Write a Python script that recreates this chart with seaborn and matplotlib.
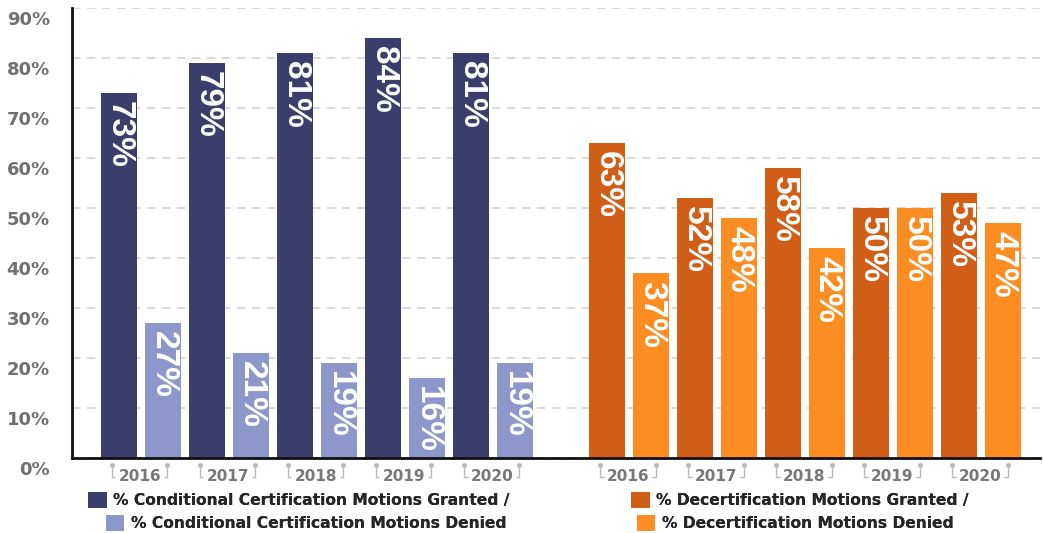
import numpy as np
import pandas as pd
import matplotlib
matplotlib.use("Agg")
import matplotlib.pyplot as plt
import matplotlib.transforms as mtransforms
from matplotlib.patches import Patch
import seaborn as sns

# ---------------- data ----------------
years = ["2016", "2017", "2018", "2019", "2020"]
cond_granted = [73, 79, 81, 84, 81]
cond_denied = [27, 21, 19, 16, 19]
decert_granted = [63, 52, 58, 50, 53]
decert_denied = [37, 48, 42, 50, 47]
series_labels = [
    "% Conditional Certification Motions Granted /",
    "% Conditional Certification Motions Denied",
    "% Decertification Motions Granted /",
    "% Decertification Motions Denied",
]
y_ticks = [0, 10, 20, 30, 40, 50, 60, 70, 80, 90]
y_tick_labels = [f"{t}%" for t in y_ticks]

# ---------------- style ----------------
colors = ["#3b3e6b", "#8e97c9", "#d05e17", "#fb8d22"]
group_offset = 11.1
bar_width = 36 / 44

sns.set_theme(style="white")
plt.rcParams["font.family"] = ["DejaVu Sans"]

rows = []
groups = [(cond_granted, cond_denied), (decert_granted, decert_denied)]
for g, (gr, de) in enumerate(groups):
    for i, y in enumerate(years):
        rows.append(dict(pos=g * group_offset + 2 * i, value=gr[i],
                         series=series_labels[2 * g], year=y, group=g))
        rows.append(dict(pos=g * group_offset + 2 * i + 1, value=de[i],
                         series=series_labels[2 * g + 1], year=y, group=g))
df = pd.DataFrame(rows)

fig = plt.figure(figsize=(10.43, 5.33), dpi=100)
ax = fig.add_axes([72 / 1043, 75 / 533, (1040 - 72) / 1043, 450 / 533])

palette = dict(zip(series_labels, colors))
sns.barplot(data=df, x="pos", y="value", hue="series", palette=palette,
            native_scale=True, dodge=False, width=bar_width, saturation=1,
            linewidth=0, legend=False, ax=ax, errorbar=None)

ax.set_xlim(-1.068, 20.93)
ax.set_ylim(0, 90)
ax.set_yticks(y_ticks)
ax.set_yticklabels(y_tick_labels)
ax.set_xticks([])
ax.set_xlabel("")
ax.set_ylabel("")
ax.set_axisbelow(True)
ax.yaxis.grid(True, linestyle=(0, (5, 4)), color="#d3d3d3", linewidth=1.2)
ax.xaxis.grid(False)
for s in ["top", "right"]:
    ax.spines[s].set_visible(False)
for s in ["left", "bottom"]:
    ax.spines[s].set_visible(True)
    ax.spines[s].set_color("#111111")
    ax.spines[s].set_linewidth(2)
ax.tick_params(axis="y", length=0, pad=16, labelsize=13, labelcolor="#707070")
for lab in ax.get_yticklabels():
    lab.set_fontweight("bold")
    lab.set_transform(lab.get_transform() +
                      mtransforms.ScaledTranslation(0, -10 / 100, fig.dpi_scale_trans))

# value labels inside bars
label_off = mtransforms.ScaledTranslation(0, -8 / 100, fig.dpi_scale_trans)
for _, r in df.iterrows():
    ax.text(r["pos"], r["value"], f"{r['value']}%", rotation=-90,
            ha="center", va="top", color="white", fontsize=24,
            fontweight="bold", family=["Liberation Sans", "DejaVu Sans"],
            transform=ax.transData + label_off)

# year labels with brackets
btrans = mtransforms.blended_transform_factory(ax.transData, ax.transAxes)
for g in range(2):
    for i, y in enumerate(years):
        c = g * group_offset + 2 * i + 0.5
        ax.text(c - 0.03, -0.041, y, ha="center", va="center", transform=btrans,
                fontsize=11, fontweight="bold", color="#777777", clip_on=False)
        for side in (-1, 1):
            bx = c - 0.66 if side < 0 else c + 0.6
            hx = bx + 0.08 if side < 0 else bx - 0.08
            ax.plot([bx, bx, hx], [-0.016, -0.042, -0.042], transform=btrans,
                    color="#bbbbbb", lw=1, clip_on=False)
            ax.plot([bx], [-0.016], marker="o", ms=2.5, color="#bbbbbb",
                    transform=btrans, clip_on=False)

# legends (one centered line each)
legend_pos = [(299 / 1043, 33 / 533), (306 / 1043, 10 / 533),
              (800 / 1043, 33 / 533), (795 / 1043, 10 / 533)]
for lab, col, (lx, ly) in zip(series_labels, colors, legend_pos):
    leg = fig.legend(handles=[Patch(facecolor=col, edgecolor="none", label=lab)],
                     loc="center", bbox_to_anchor=(lx, ly), frameon=False,
                     handlelength=1.2, handleheight=1.2, handletextpad=0.4,
                     borderpad=0, borderaxespad=0,
                     prop=dict(weight="bold", size=11.2))
    fig.add_artist(leg)

fig.savefig("out.png", dpi=100)
